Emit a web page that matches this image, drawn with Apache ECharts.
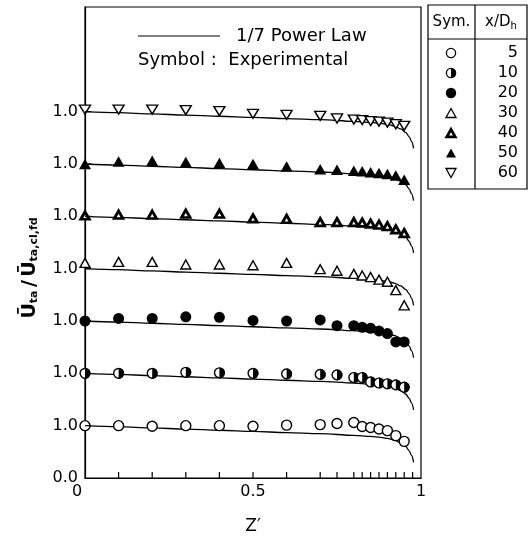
<!DOCTYPE html>
<html>
<head>
<meta charset="utf-8">
<script src="https://cdn.jsdelivr.net/npm/echarts@6/dist/echarts.min.js"></script>
<style>
html,body{margin:0;padding:0;background:#fff;}
#chart{width:531px;height:540px;}
</style>
</head>
<body>
<div id="chart"></div>
<script>
// ---------- data ----------
const zPos = [0, 0.1, 0.2, 0.3, 0.4, 0.5, 0.6, 0.7, 0.75, 0.8, 0.825, 0.85, 0.875, 0.9, 0.925, 0.95];
const u5  = [1.00, 1.00, 0.99, 1.00, 1.00, 0.99, 1.01, 1.02, 1.04, 1.06, 0.985, 0.965, 0.935, 0.905, 0.81, 0.70];
const u10 = [1.00, 1.00, 1.00, 1.02, 1.01, 1.00, 0.99, 0.98, 0.97, 0.92, 0.92, 0.835, 0.815, 0.80, 0.78, 0.735];
const u20 = [1.00, 1.05, 1.05, 1.08, 1.07, 1.01, 1.00, 1.02, 0.91, 0.91, 0.88, 0.86, 0.81, 0.76, 0.60, 0.60];
const u30 = [1.11, 1.13, 1.13, 1.08, 1.08, 1.065, 1.11, 0.99, 0.96, 0.90, 0.87, 0.84, 0.79, 0.75, 0.59, 0.30];
const u40 = [1.015, 1.03, 1.03, 1.05, 1.05, 0.96, 0.95, 0.89, 0.89, 0.89, 0.88, 0.86, 0.84, 0.81, 0.75, 0.68];
const u50 = [1.00, 1.05, 1.06, 1.04, 1.02, 1.00, 0.95, 0.90, 0.89, 0.87, 0.86, 0.84, 0.83, 0.81, 0.78, 0.70];
const u60 = [1.04, 1.04, 1.04, 1.03, 1.01, 0.96, 0.94, 0.92, 0.87, 0.85, 0.84, 0.82, 0.81, 0.79, 0.76, 0.73];
const stations = ['5', '10', '20', '30', '40', '50', '60'];
const offsets = [0, 1, 2, 3, 4, 5, 6];
// 1/7 power law curve
const lawZ = [0, 0.1, 0.2, 0.3, 0.4, 0.5, 0.6, 0.7, 0.8, 0.85, 0.88, 0.9, 0.92, 0.94, 0.955, 0.965, 0.972, 0.978];
const lawU = [1.0, 0.98, 0.957, 0.935, 0.912, 0.89, 0.868, 0.847, 0.815, 0.795, 0.778, 0.758, 0.725, 0.67, 0.60, 0.52, 0.43, 0.30];
// axes
const xTickZ = [0.1, 0.2, 0.3, 0.4, 0.5, 0.6, 0.7, 0.75, 0.8, 0.825, 0.85, 0.875, 0.9, 0.925, 0.95, 0.975];
const xTickLabels = ['0', '0.5', '1'];
const yTickLabels = ['0.0', '1.0', '1.0', '1.0', '1.0', '1.0', '1.0', '1.0', '', ''];
const yTickVals = [1, 2, 3, 4, 5, 6, 7];

// ---------- chart ----------
const FONT = 'DejaVu Sans';
const chart = echarts.init(document.getElementById('chart'), null, {renderer: 'canvas'});
const allU = [u5, u10, u20, u30, u40, u50, u60];

const series = [];
offsets.forEach(function (off) {
  series.push({
    type: 'line', data: lawZ.map(function (z, i) { return [z, lawU[i] + off]; }),
    showSymbol: false, smooth: 0.35, smoothMonotone: 'x',
    lineStyle: {color: '#000', width: 1.3}, z: 2, silent: true
  });
});
function pts(k) { return zPos.map(function (z, i) { return [z, allU[k][i] + offsets[k]]; }); }
series.push({type: 'scatter', data: pts(0), symbol: 'circle', symbolSize: 10,
  itemStyle: {color: '#fff', borderColor: '#000', borderWidth: 1.4, opacity: 1}, z: 3, silent: true});
series.push({type: 'custom', data: pts(1), z: 3, silent: true,
  renderItem: function (params, api) {
    const p = api.coord([api.value(0), api.value(1)]);
    const r = 4.9;
    return {type: 'group', children: [
      {type: 'circle', shape: {cx: p[0], cy: p[1], r: r}, style: {fill: '#fff', stroke: '#000', lineWidth: 1.4}},
      {type: 'sector', shape: {cx: p[0], cy: p[1], r0: 0, r: r + 0.5, startAngle: -Math.PI / 2, endAngle: Math.PI / 2, clockwise: true}, style: {fill: '#000'}}
    ]};
  }});
series.push({type: 'scatter', data: pts(2), symbol: 'circle', symbolSize: 11,
  itemStyle: {color: '#000', opacity: 1}, z: 3, silent: true});
series.push({type: 'scatter', data: pts(3), symbol: 'triangle', symbolSize: [10, 9],
  itemStyle: {color: '#fff', borderColor: '#000', borderWidth: 1.4, opacity: 1}, z: 3, silent: true});
series.push({type: 'scatter', data: pts(4), symbol: 'triangle', symbolSize: [8.5, 7.5],
  itemStyle: {color: '#fff', borderColor: '#000', borderWidth: 2.8, opacity: 1}, z: 3, silent: true});
series.push({type: 'scatter', data: pts(5), symbol: 'triangle', symbolSize: [12, 10.5],
  itemStyle: {color: '#000', opacity: 1}, z: 3, silent: true});
series.push({type: 'scatter', data: pts(6), symbol: 'triangle', symbolRotate: 180, symbolSize: [11, 9],
  itemStyle: {color: '#fff', borderColor: '#000', borderWidth: 1.4, opacity: 1}, z: 3, silent: true});
series.push({type: 'scatter', data: xTickZ.map(function (z) { return [z, 0]; }), symbol: 'rect',
  symbolSize: [1.2, 6], symbolOffset: [0, -3], itemStyle: {color: '#000', opacity: 1}, clip: false, z: 4, silent: true});
series.push({type: 'scatter', data: yTickVals.map(function (v) { return [0, v]; }), symbol: 'rect',
  symbolSize: [6, 1.2], symbolOffset: [3, 0], itemStyle: {color: '#000', opacity: 1}, clip: false, z: 4, silent: true});

const tbl = [];
const bx = 428, by = 5, bw = 99, bh = 184, divX = 475, hdrY = 39, symX = 451, numX = 518;
tbl.push({type: 'rect', shape: {x: bx, y: by, width: bw, height: bh}, style: {fill: 'none', stroke: '#000', lineWidth: 1.2}});
tbl.push({type: 'line', shape: {x1: divX, y1: by, x2: divX, y2: by + bh}, style: {stroke: '#000', lineWidth: 1.2}});
tbl.push({type: 'line', shape: {x1: bx, y1: hdrY, x2: bx + bw, y2: hdrY}, style: {stroke: '#000', lineWidth: 1.2}});
tbl.push({type: 'text', x: (bx + divX) / 2, y: 22, style: {text: 'Sym.', fontSize: 15, fontFamily: FONT, fill: '#000', align: 'center', verticalAlign: 'middle', textAlign: 'center', textVerticalAlign: 'middle'}});
tbl.push({type: 'text', x: (divX + bx + bw) / 2, y: 22, style: {text: '{a|x/D}{b|h}', rich: {a: {fontSize: 15, fontFamily: FONT}, b: {fontSize: 10, fontFamily: FONT, verticalAlign: 'bottom', padding: [8, 0, 0, 0]}}, fill: '#000', align: 'center', verticalAlign: 'middle', textAlign: 'center', textVerticalAlign: 'middle'}});
stations.forEach(function (s, i) {
  const y = 53 + 20 * i;
  tbl.push({type: 'text', x: numX, y: y, style: {text: s, fontSize: 16, fontFamily: FONT, fill: '#000', align: 'right', verticalAlign: 'middle', textAlign: 'right', textVerticalAlign: 'middle'}});
  const r = 4.6;
  if (i === 0) tbl.push({type: 'circle', shape: {cx: symX, cy: y, r: r}, style: {fill: '#fff', stroke: '#000', lineWidth: 1.3}});
  if (i === 1) {
    tbl.push({type: 'circle', shape: {cx: symX, cy: y, r: r}, style: {fill: '#fff', stroke: '#000', lineWidth: 1.3}});
    tbl.push({type: 'sector', shape: {cx: symX, cy: y, r0: 0, r: r + 0.5, startAngle: -Math.PI / 2, endAngle: Math.PI / 2, clockwise: true}, style: {fill: '#000'}});
  }
  if (i === 2) tbl.push({type: 'circle', shape: {cx: symX, cy: y, r: 5.2}, style: {fill: '#000'}});
  const up = [[symX, y - 4.5], [symX + 5, y + 4.5], [symX - 5, y + 4.5]];
  const upS = [[symX, y - 3.6], [symX + 4.2, y + 3.8], [symX - 4.2, y + 3.8]];
  const dn = [[symX, y + 4.5], [symX + 5, y - 4.5], [symX - 5, y - 4.5]];
  if (i === 3) tbl.push({type: 'polygon', shape: {points: up}, style: {fill: '#fff', stroke: '#000', lineWidth: 1.3}});
  if (i === 4) tbl.push({type: 'polygon', shape: {points: upS}, style: {fill: '#fff', stroke: '#000', lineWidth: 2.8}});
  if (i === 5) tbl.push({type: 'polygon', shape: {points: up}, style: {fill: '#000'}});
  if (i === 6) tbl.push({type: 'polygon', shape: {points: dn}, style: {fill: '#fff', stroke: '#000', lineWidth: 1.3}});
});
tbl.push({type: 'line', shape: {x1: 138, y1: 36, x2: 220, y2: 36}, style: {stroke: '#000', lineWidth: 1.2}});
tbl.push({type: 'text', x: 236, y: 36, style: {text: '1/7 Power Law', fontSize: 18, fontFamily: FONT, fill: '#000', align: 'left', verticalAlign: 'middle', textAlign: 'left', textVerticalAlign: 'middle'}});
tbl.push({type: 'text', x: 138, y: 60, style: {text: 'Symbol :  Experimental', fontSize: 18, fontFamily: FONT, fill: '#000', align: 'left', verticalAlign: 'middle', textAlign: 'left', textVerticalAlign: 'middle'}});
tbl.push({type: 'text', x: 30, y: 268, rotation: Math.PI / 2, style: {
  text: '{u|Ū}{s|ta} {u|/} {u|Ū}{s|ta,cl,fd}',
  rich: {u: {fontSize: 19, fontFamily: FONT, fontWeight: 'bold'}, s: {fontSize: 11, fontFamily: FONT, fontWeight: 'bold', verticalAlign: 'bottom', padding: [9, 0, 0, 0]}},
  fill: '#000', align: 'center', verticalAlign: 'middle', textAlign: 'center', textVerticalAlign: 'middle'}});

const option = {
  animation: false,
  backgroundColor: '#fff',
  grid: {left: 85, right: 110, top: 7, bottom: 59.5, show: true, borderColor: '#000', borderWidth: 1.2, backgroundColor: 'transparent'},
  xAxis: {
    type: 'value', min: 0, max: 1, interval: 0.5,
    axisLine: {show: true, lineStyle: {color: '#000', width: 1.2}},
    axisTick: {show: false}, splitLine: {show: false},
    axisLabel: {
      color: '#000', fontSize: 16, fontFamily: FONT, margin: 6,
      formatter: function (v) { const i = Math.round(v * 2); return i === 0 ? '{z|' + xTickLabels[0] + '}' : xTickLabels[i]; },
      rich: {z: {fontSize: 16, fontFamily: FONT, color: '#000', padding: [0, 16, 0, 0]}}
    },
    name: 'Z′', nameLocation: 'middle', nameGap: 40,
    nameTextStyle: {color: '#000', fontSize: 17, fontFamily: FONT}
  },
  yAxis: {
    type: 'value', min: 0, max: 9, interval: 1,
    axisLine: {show: true, lineStyle: {color: '#000', width: 1.2}},
    axisTick: {show: false}, splitLine: {show: false},
    axisLabel: {
      color: '#000', fontSize: 16, fontFamily: FONT, margin: 7,
      formatter: function (v) { return yTickLabels[Math.round(v)] || ''; }
    }
  },
  graphic: {elements: tbl},
  series: series
};
chart.setOption(option);
</script>
</body>
</html>
